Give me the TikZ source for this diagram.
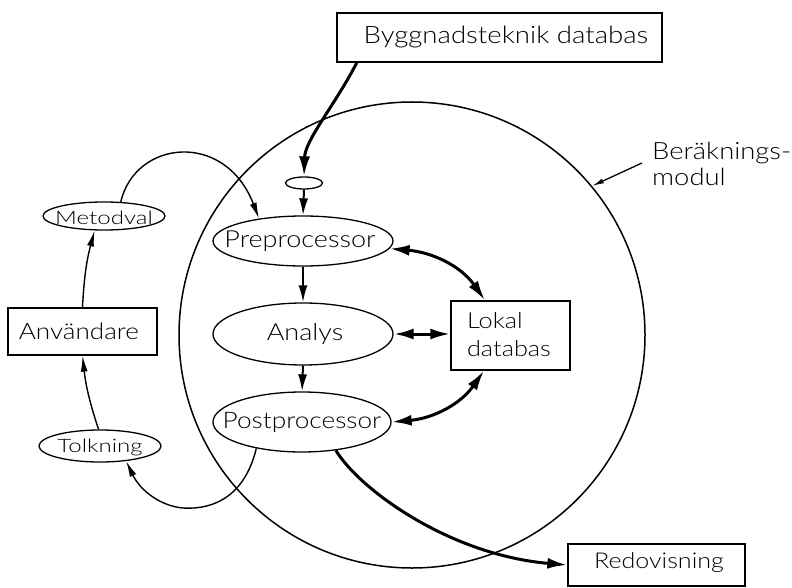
\documentclass[tikz,border=0pt]{standalone}
\usepackage{fontspec}
\setmainfont{Lato}[UprightFont=* Light, FakeStretch=1.15]
\usetikzlibrary{shapes.geometric,arrows.meta}
\newcommand\fsz[1]{\fontsize{#1}{#1}\selectfont}
\begin{document}
\begin{tikzpicture}[x=1pt,y=-1pt,
  ell/.style={draw, ellipse, inner sep=0pt, line width=1.3pt},
  box/.style={draw, rectangle, inner sep=0pt, line width=1.3pt},
  txt/.style={inner sep=0pt, font=\fsz{23.5}},
  widetxt/.style={inner sep=0pt, font=\fsz{18.5}\addfontfeature{FakeStretch=1.3}},
  thinarr/.style={line width=1.4pt, -{Latex[length=16pt,width=7pt]}},
  medarr/.style={line width=2pt, -{Latex[length=17pt,width=9pt]}},
  thickarr/.style={line width=3pt, -{Latex[length=20pt,width=11pt]}},
  dblarr/.style={line width=3pt, {Latex[length=20pt,width=11pt]}-{Latex[length=20pt,width=11pt]}}]
\useasboundingbox (0,0) rectangle (792,588);
% module circle
\draw[line width=1.5pt] (412,335) circle[radius=233pt];
% boxes
\node[box, minimum width=325pt, minimum height=49pt] (bygg) at (499.5,37.5) {};
\node[txt, font=\fsz{24}] (byggt) at (506,37) {Byggnadsteknik databas};
\node[box, minimum width=149pt, minimum height=47pt] (anv) at (82.5,331.5) {};
\node[txt, font=\fsz{22.7}] (anvt) at (79,331) {Användare};
\node[box, minimum width=119pt, minimum height=69pt] (lok) at (510.5,335.5) {};
\node[txt, font=\fsz{22}, align=left] (lokt) at (509,335) {Lokal\\[6pt]databas};
\node[box, minimum width=177pt, minimum height=42pt] (red) at (656.5,565) {};
\node[txt, font=\fsz{21.8}] (redt) at (659,563) {Redovisning};
% ellipses
\node[ell, minimum width=37pt, minimum height=12pt] (small) at (304,183) {};
\node[ell, minimum width=180pt, minimum height=50pt] (pre) at (303,241) {};
\node[txt] (pret) at (300,241) {Preprocessor};
\node[ell, minimum width=180pt, minimum height=62pt] (ana) at (303,334) {};
\node[txt] (anat) at (305,334) {Analys};
\node[ell, minimum width=178pt, minimum height=60pt] (post) at (302,422) {};
\node[txt, font=\fsz{22.8}] (postt) at (302,422) {Postprocessor};
\node[ell, minimum width=122pt, minimum height=28pt] (met) at (104,216) {};
\node[widetxt] (mett) at (104,217.5) {Metodval};
\node[ell, minimum width=122pt, minimum height=32pt] (tolk) at (100,446) {};
\node[widetxt] (tolkt) at (100,447) {Tolkning};
% label
\node[txt, font=\fsz{23.8}, align=left, anchor=north west] (ber) at (652,142) {Beräknings-\\[2pt]modul};
\coordinate (berp) at (642,163);
\coordinate (circp) at (592,186);
% connectors
\draw[thickarr] (bygg.190) .. controls (335,105) and (305,140) .. (small.north);
\draw[medarr] (small.south) -- (pre.north);
\draw[medarr] (pre.south) -- (ana.north);
\draw[medarr] (ana.south) -- (post.north);
\draw[dblarr] (pre.-5) to[out=-5, in=125] (lok.126);
\draw[dblarr] (ana.east) -- (ana.east -| lok.west);
\draw[dblarr] (post.east) to[out=5, in=-125] (lok.233);
\draw[thickarr] (post.-40) .. controls (360,490) and (450,555) .. (red.west);
\draw[thinarr] (met.40) .. controls (135,140) and (225,130) .. (pre.153);
\draw[thinarr] (anv.north) to[bend left=6] (met.237);
\draw[thinarr] (tolk.95) to[bend left=6] (anv.south);
\draw[thinarr] (post.210) .. controls (245,495) and (215,510) .. (183,508)
  .. controls (160,506) and (140,490) .. (tolk.-30);
\draw[line width=1.3pt, -{Latex[length=12pt,width=5pt]}] (berp) -- (circp);
\end{tikzpicture}
\end{document}
